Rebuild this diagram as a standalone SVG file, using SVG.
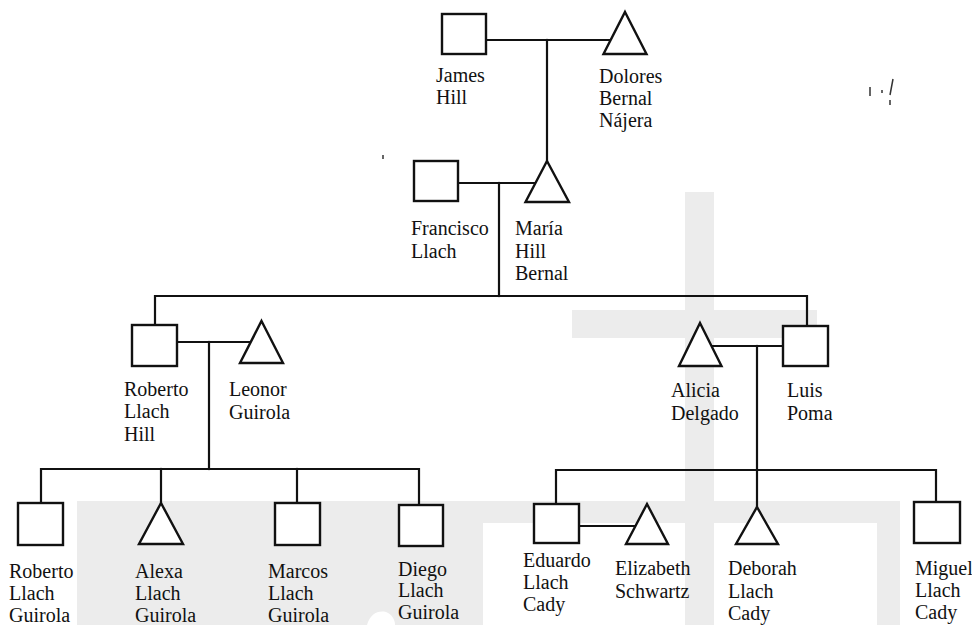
<svg xmlns="http://www.w3.org/2000/svg" width="972" height="625" viewBox="0 0 972 625">
<style>
  .bg { fill: #ececec; }
  .ln { fill: none; stroke: #111; stroke-width: 2.2; stroke-linecap: square; }
  .sh { fill: #fff; stroke: #111; stroke-width: 2.4; stroke-linejoin: miter; }
  .tx { font-family: "Liberation Serif", "Times New Roman", serif; font-size: 20px; fill: #111; }
  .spk { fill: none; stroke: #333; stroke-width: 1.5; }
</style>
<rect width="972" height="625" fill="#fff"/>
<g id="background">
  <rect class="bg" x="685" y="192" width="29" height="433"/>
  <rect class="bg" x="572" y="310" width="245" height="28"/>
  <rect class="bg" x="77" y="501" width="823" height="124"/>
  <rect x="483" y="523" width="202" height="102" fill="#fff"/>
  <rect x="714" y="523" width="163" height="102" fill="#fff"/>
  <path d="M367,625 C370,614 378,610 386,612 C392,614 395,620 395,625 Z" fill="#fff"/>
</g>
<g id="specks">
  <path class="spk" d="M870,87 V96 M882,90 V93 M893,79 L890,95 M890,100 V105"/>
  <path class="spk" d="M383,155 V159"/>
</g>
<g id="connectors">
  <path class="ln" d="M486,40 H611"/>
  <path class="ln" d="M547,40 V161"/>
  <path class="ln" d="M458,183 H536"/>
  <path class="ln" d="M499,183 V296"/>
  <path class="ln" d="M155,325 V296 H807 V326"/>
  <path class="ln" d="M177,342 H250"/>
  <path class="ln" d="M209,342 V469"/>
  <path class="ln" d="M41,503 V469 H419 V505"/>
  <path class="ln" d="M161,469 V503"/>
  <path class="ln" d="M297,469 V503"/>
  <path class="ln" d="M711,346 H783"/>
  <path class="ln" d="M757,346 V507"/>
  <path class="ln" d="M556,504 V470 H936 V502"/>
  <path class="ln" d="M579,526 H636"/>
</g>
<g id="james-hill">
  <rect class="sh" x="442" y="14" width="44" height="40"/>
  <text class="tx" x="436"><tspan x="436" y="82">James</tspan><tspan x="436" y="104">Hill</tspan></text>
</g>
<g id="dolores-bernal-najera">
  <polygon class="sh" points="625,12 646.5,54 603.5,54"/>
  <text class="tx"><tspan x="599" y="83">Dolores</tspan><tspan x="599" y="105">Bernal</tspan><tspan x="599" y="127">Nájera</tspan></text>
</g>
<g id="francisco-llach">
  <rect class="sh" x="414" y="161" width="44" height="40"/>
  <text class="tx"><tspan x="411" y="235">Francisco</tspan><tspan x="411" y="258">Llach</tspan></text>
</g>
<g id="maria-hill-bernal">
  <polygon class="sh" points="547,161 569,202 525.5,202"/>
  <text class="tx"><tspan x="515" y="235">María</tspan><tspan x="515" y="258">Hill</tspan><tspan x="515" y="280">Bernal</tspan></text>
</g>
<g id="roberto-llach-hill">
  <rect class="sh" x="132" y="325" width="45" height="41"/>
  <text class="tx"><tspan x="124" y="396">Roberto</tspan><tspan x="124" y="418">Llach</tspan><tspan x="124" y="441">Hill</tspan></text>
</g>
<g id="leonor-guirola">
  <polygon class="sh" points="261.5,321 283,363 240,363"/>
  <text class="tx"><tspan x="229" y="396">Leonor</tspan><tspan x="229" y="419">Guirola</tspan></text>
</g>
<g id="alicia-delgado">
  <polygon class="sh" points="700,323 721.5,366 679,366"/>
  <text class="tx"><tspan x="671" y="397">Alicia</tspan><tspan x="671" y="420">Delgado</tspan></text>
</g>
<g id="luis-poma">
  <rect class="sh" x="783" y="326" width="45" height="40"/>
  <text class="tx"><tspan x="787" y="397">Luis</tspan><tspan x="787" y="420">Poma</tspan></text>
</g>
<g id="roberto-llach-guirola">
  <rect class="sh" x="18" y="503" width="45" height="42"/>
  <text class="tx"><tspan x="9" y="578">Roberto</tspan><tspan x="9" y="600">Llach</tspan><tspan x="9" y="622">Guirola</tspan></text>
</g>
<g id="alexa-llach-guirola">
  <polygon class="sh" points="161,503 183,544 139,544"/>
  <text class="tx"><tspan x="135" y="578">Alexa</tspan><tspan x="135" y="600">Llach</tspan><tspan x="135" y="622">Guirola</tspan></text>
</g>
<g id="marcos-llach-guirola">
  <rect class="sh" x="275" y="503" width="45" height="42"/>
  <text class="tx"><tspan x="268" y="578">Marcos</tspan><tspan x="268" y="600">Llach</tspan><tspan x="268" y="622">Guirola</tspan></text>
</g>
<g id="diego-llach-guirola">
  <rect class="sh" x="399" y="505" width="44" height="41"/>
  <text class="tx"><tspan x="398" y="576">Diego</tspan><tspan x="398" y="597">Llach</tspan><tspan x="398" y="619">Guirola</tspan></text>
</g>
<g id="eduardo-llach-cady">
  <rect class="sh" x="534" y="504" width="45" height="39"/>
  <text class="tx"><tspan x="523" y="567">Eduardo</tspan><tspan x="523" y="589">Llach</tspan><tspan x="523" y="611">Cady</tspan></text>
</g>
<g id="elizabeth-schwartz">
  <polygon class="sh" points="647,504 668,544 626,544"/>
  <text class="tx"><tspan x="615" y="575">Elizabeth</tspan><tspan x="615" y="598">Schwartz</tspan></text>
</g>
<g id="deborah-llach-cady">
  <polygon class="sh" points="757,507 778,544 736,544"/>
  <text class="tx"><tspan x="728" y="575">Deborah</tspan><tspan x="728" y="598">Llach</tspan><tspan x="728" y="620">Cady</tspan></text>
</g>
<g id="miguel-llach-cady">
  <rect class="sh" x="914" y="502" width="46" height="41"/>
  <text class="tx"><tspan x="915" y="575">Miguel</tspan><tspan x="915" y="597">Llach</tspan><tspan x="915" y="619">Cady</tspan></text>
</g>
</svg>
